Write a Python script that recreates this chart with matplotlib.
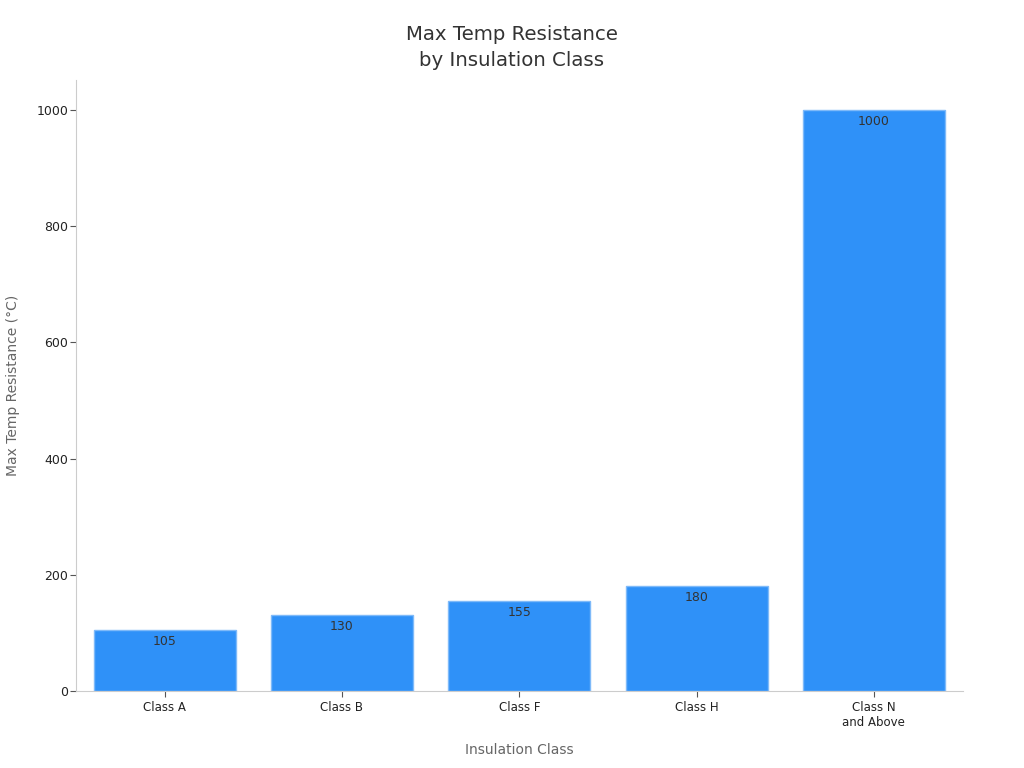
import matplotlib.pyplot as plt

categories = ['Class A', 'Class B', 'Class F', 'Class H', 'Class N\nand Above']
temps = [105, 130, 155, 180, 1000]

fig = plt.figure(figsize=(10.24, 7.68), dpi=100)
ax = fig.add_axes([0.0742, 0.1003, 0.8658, 0.7957])

bars = ax.bar(range(len(categories)), temps, width=0.8,
              color='#2f91f8', edgecolor='#7fbaf9', linewidth=1)

for b, v in zip(bars, temps):
    ax.text(b.get_x() + b.get_width() / 2, v - 8, str(v),
            ha='center', va='top', fontsize=9, color='#333333')

ax.set_xlim(-0.5, 4.5)
ax.set_ylim(0, 1052)
ax.set_xticks(range(len(categories)))
ax.set_xticklabels(categories, fontsize=8.5, color='#222222')
ax.set_yticks([0, 200, 400, 600, 800, 1000])
ax.tick_params(axis='y', labelsize=9, labelcolor='#222222', color='#555555', length=4, pad=1.5)
ax.tick_params(axis='x', color='#555555', length=4)

for s in ['top', 'right']:
    ax.spines[s].set_visible(False)
for s in ['left', 'bottom']:
    ax.spines[s].set_color('#cccccc')

ax.set_xlabel('Insulation Class', fontsize=10, color='#666666', labelpad=10)
ax.set_ylabel('Max Temp Resistance (°C)', fontsize=10, color='#666666', labelpad=12)
# title is centred on the figure, not the axes
fig.text(0.5, 1 - 70 / 768, 'Max Temp Resistance\nby Insulation Class', fontsize=14.2,
         color='#333333', ha='center', va='bottom', linespacing=1.45)

fig.savefig('out.png', dpi=100)
